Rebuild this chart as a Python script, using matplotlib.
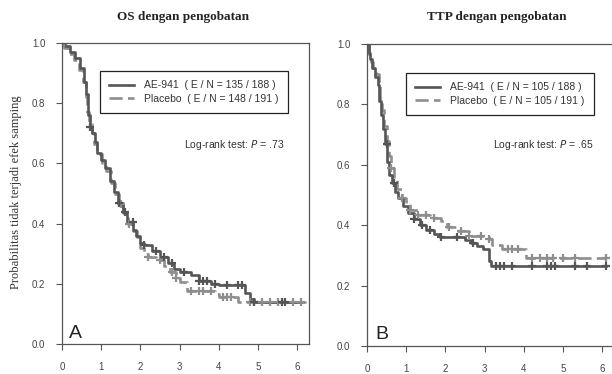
import numpy as np
import matplotlib
matplotlib.use("Agg")
import matplotlib.pyplot as plt
from matplotlib.lines import Line2D

# ---------------- data ----------------
titles = ["OS dengan pengobatan", "TTP dengan pengobatan"]
panel_letters = ["A", "B"]
legend_ae = ["AE-941  ( E / N = 135 / 188 )", "AE-941  ( E / N = 105 / 188 )"]
legend_pl = ["Placebo  ( E / N = 148 / 191 )", "Placebo  ( E / N = 105 / 191 )"]
logrank = ["Log-rank test: $P$ = .73", "Log-rank test: $P$ = .65"]
x_ticks = [0, 1, 2, 3, 4, 5, 6]
y_ticks = [0.0, 0.2, 0.4, 0.6, 0.8, 1.0]
y_label = "Probabilitas tidak terjadi efek samping"

os_ae_t = [0, 0.08, 0.2, 0.33, 0.46, 0.55, 0.6, 0.66, 0.72, 0.77, 0.83, 0.89, 1.0, 1.1,
           1.22, 1.32, 1.43, 1.55, 1.66, 1.81, 1.9, 2.0, 2.1, 2.3, 2.5, 2.7, 2.85, 3.0,
           3.3, 3.5, 3.8, 4.0, 4.68, 4.8, 4.9, 6.1]
os_ae_s = [1.0, 0.99, 0.97, 0.95, 0.917, 0.87, 0.83, 0.76, 0.72, 0.70, 0.67, 0.635, 0.61,
           0.585, 0.54, 0.505, 0.47, 0.44, 0.405, 0.38, 0.36, 0.335, 0.33, 0.31, 0.29, 0.27,
           0.25, 0.24, 0.23, 0.21, 0.20, 0.195, 0.17, 0.15, 0.14, 0.14]
os_ae_cens = [0.72, 1.45, 1.6, 1.8, 2.1, 2.4, 2.6, 2.8, 3.1, 3.5, 3.6, 3.7, 3.9, 4.2, 4.5,
              4.6, 4.9, 5.6, 5.7]

os_pl_t = [0, 0.06, 0.18, 0.3, 0.44, 0.53, 0.6, 0.65, 0.7, 0.76, 0.82, 0.9, 1.02, 1.12,
           1.24, 1.34, 1.45, 1.56, 1.68, 1.82, 1.92, 2.0, 2.1, 2.2, 2.4, 2.6, 2.75, 2.9,
           3.0, 3.2, 3.9, 4.0, 4.5, 6.2]
os_pl_s = [1.0, 0.985, 0.965, 0.945, 0.91, 0.87, 0.82, 0.77, 0.73, 0.70, 0.665, 0.63, 0.60,
           0.575, 0.535, 0.50, 0.465, 0.435, 0.40, 0.375, 0.355, 0.32, 0.30, 0.29, 0.28,
           0.26, 0.24, 0.22, 0.205, 0.175, 0.165, 0.155, 0.14, 0.135]
os_pl_cens = [0.05, 1.5, 1.7, 2.2, 2.5, 2.8, 2.9, 3.3, 3.5, 3.6, 3.8, 4.1, 4.2, 4.3, 4.8,
              4.9, 5.1, 5.3, 5.5, 5.9, 6.1]

ttp_ae_t = [0, 0.04, 0.08, 0.13, 0.2, 0.28, 0.31, 0.35, 0.41, 0.47, 0.52, 0.57, 0.64, 0.72,
            0.8, 0.92, 1.05, 1.2, 1.35, 1.5, 1.7, 1.85, 2.5, 2.65, 2.8, 2.95, 3.1, 3.15, 6.1]
ttp_ae_s = [1.0, 0.97, 0.95, 0.92, 0.89, 0.865, 0.81, 0.765, 0.72, 0.67, 0.61, 0.565, 0.54,
            0.51, 0.49, 0.465, 0.44, 0.42, 0.40, 0.385, 0.37, 0.36, 0.35, 0.34, 0.33, 0.32,
            0.28, 0.265, 0.265]
ttp_ae_cens = [0.5, 0.7, 1.2, 1.4, 1.6, 1.9, 2.3, 2.7, 3.3, 3.4, 3.5, 3.7, 4.2, 4.6, 4.7,
               4.8, 5.3, 5.6, 6.1]

ttp_pl_t = [0, 0.05, 0.1, 0.15, 0.22, 0.3, 0.34, 0.38, 0.44, 0.5, 0.55, 0.6, 0.68, 0.77,
            0.9, 1.0, 1.1, 1.3, 1.6, 1.9, 2.05, 2.3, 2.6, 3.1, 3.2, 3.45, 4.05, 6.1]
ttp_pl_s = [1.0, 0.96, 0.94, 0.92, 0.90, 0.87, 0.82, 0.78, 0.73, 0.68, 0.63, 0.59, 0.555,
            0.52, 0.49, 0.47, 0.45, 0.435, 0.425, 0.415, 0.395, 0.38, 0.365, 0.355, 0.335,
            0.32, 0.29, 0.29]
ttp_pl_cens = [0.6, 0.9, 1.1, 1.3, 1.5, 1.7, 2.1, 2.4, 2.6, 2.9, 3.1, 3.6, 3.7, 3.85, 4.2,
               4.4, 4.6, 4.75, 5.0, 5.3, 6.1]

panels = [
    (os_ae_t, os_ae_s, os_ae_cens, os_pl_t, os_pl_s, os_pl_cens),
    (ttp_ae_t, ttp_ae_s, ttp_ae_cens, ttp_pl_t, ttp_pl_s, ttp_pl_cens),
]

# ---------------- style ----------------
W, H = 612, 374
c_ae = "#555555"
c_pl = "#8e8e8e"
c_axis = "#555555"
tick_font = ["Liberation Sans", "DejaVu Sans"]
serif = ["Liberation Serif", "DejaVu Serif"]

fig = plt.figure(figsize=(W / 100, H / 100), dpi=100)
rects = [
    [62 / W, 1 - 344 / H, 247 / W, 301 / H],
    [367 / W, 1 - 346 / H, 247 / W, 302 / H],
]
title_x = [183, 497]
legend_corner = [(100, 71), (406, 73)]
logrank_pos = [(284, 145), (593, 145)]
letter_pos = [(69, 338), (375, 339)]


def step_value(t, s, x):
    idx = np.searchsorted(np.asarray(t), x, side="right") - 1
    return np.asarray(s)[idx]


def fx(px):
    return px / W


def fy(py):
    return 1 - py / H


for i, (rect, data) in enumerate(zip(rects, panels)):
    ae_t, ae_s, ae_c, pl_t, pl_s, pl_c = data
    ax = fig.add_axes(rect)
    ax.step(pl_t, pl_s, where="post", color=c_pl, lw=1.9, ls=(0, (5, 2)))
    ax.step(ae_t, ae_s, where="post", color=c_ae, lw=1.9)
    ax.plot(pl_c, step_value(pl_t, pl_s, pl_c), ls="none", marker="+", ms=6, mew=1.6,
            color=c_pl)
    ax.plot(ae_c, step_value(ae_t, ae_s, ae_c), ls="none", marker="+", ms=6, mew=1.6,
            color=c_ae)

    ax.set_xlim(0, 6.3)
    ax.set_ylim(0, 1.0)
    ax.set_xticks(x_ticks)
    ax.set_yticks(y_ticks)
    ax.set_yticklabels([f"{v:.1f}" for v in y_ticks])
    for lab in ax.get_xticklabels() + ax.get_yticklabels():
        lab.set_family(tick_font)
        lab.set_fontsize(7)
        lab.set_color("#444444")
    ax.tick_params(direction="out", length=4, width=0.8, color=c_axis)
    ax.tick_params(axis="x", pad=9)
    ax.tick_params(axis="y", pad=8)
    for sp in ax.spines.values():
        sp.set_color(c_axis)
        sp.set_linewidth(0.9)

    fig.text(fx(title_x[i]), fy(17), titles[i], family=serif, fontweight="bold",
             fontsize=9.5, color="#222222", ha="center", va="center")

    handles = [Line2D([], [], color=c_ae, lw=1.9),
               Line2D([], [], color=c_pl, lw=1.9, ls=(0, (5, 2)))]
    leg = ax.legend(handles, [legend_ae[i], legend_pl[i]], loc="upper left",
                    bbox_to_anchor=(fx(legend_corner[i][0]), fy(legend_corner[i][1])),
                    bbox_transform=fig.transFigure, fancybox=False,
                    edgecolor="#222222", framealpha=1, handlelength=2.4,
                    borderpad=0.9, borderaxespad=0, labelspacing=0.3,
                    handletextpad=0.9, prop={"family": tick_font, "size": 7.5})
    leg.get_frame().set_linewidth(0.9)
    for txt in leg.get_texts():
        txt.set_color("#333333")

    fig.text(fx(logrank_pos[i][0]), fy(logrank_pos[i][1]), logrank[i], ha="right",
             va="center", family=tick_font, fontsize=7.5, color="#333333")
    fig.text(fx(letter_pos[i][0]), fy(letter_pos[i][1]), panel_letters[i], ha="left",
             va="baseline", family=tick_font, fontsize=14, color="#222222")

fig.text(fx(16), fy(192), y_label, rotation=90, ha="center", va="center",
         family=serif, fontsize=9, color="#333333")

fig.savefig("out.png", dpi=100)
